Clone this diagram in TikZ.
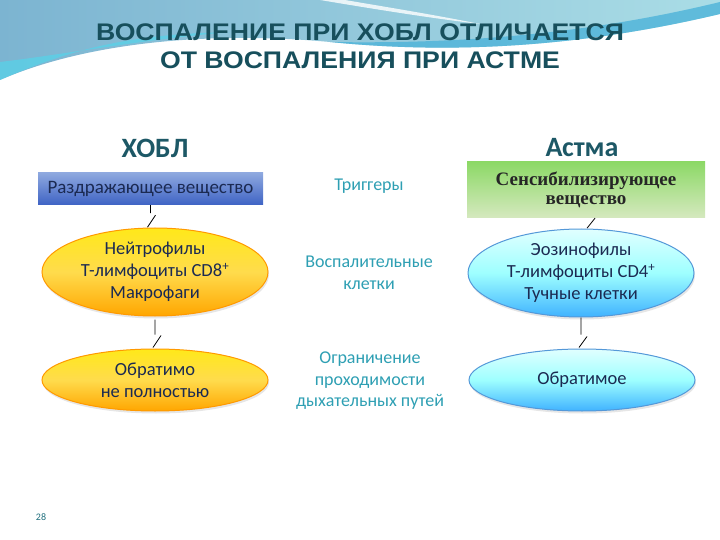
\documentclass[tikz,border=0pt]{standalone}
\usepackage{fontspec}
\setmainfont{Carlito}
\newfontfamily\titlefont[FakeStretch=1.11]{Liberation Sans}
\newfontfamily\boxserif{Liberation Serif}
\usetikzlibrary{shapes.geometric,shadows}

\definecolor{titleteal}{HTML}{174F5C}
\definecolor{headteal}{HTML}{1D5866}
\definecolor{midteal}{HTML}{2E9FB3}
\definecolor{cellnavy}{HTML}{1B2A52}
\definecolor{bandleft}{HTML}{7CB4D1}
\definecolor{bandright}{HTML}{AADDE6}
\definecolor{bandcyan}{HTML}{55D4EA}
\definecolor{bandblue}{HTML}{4DB3D9}
\definecolor{irrtop}{HTML}{8EA8DF}
\definecolor{irrbot}{HTML}{3E63C4}

\tikzset{
  cell/.style={ellipse, minimum width=226pt, minimum height=88pt, align=center, inner sep=0pt,
    text=cellnavy, font=\fontsize{18.5}{22}\selectfont, line width=1pt,
    drop shadow={opacity=0.2, shadow xshift=1pt, shadow yshift=-2.5pt}},
  copdcell/.style={cell, draw=orange!80!yellow, top color=yellow!35!orange!30!yellow!90, bottom color=orange!70!yellow,
    middle color=yellow!60!orange!70},
  asthcell/.style={cell, draw=cyan!60!blue!70, top color=cyan!12, bottom color=cyan!60!blue!75,
    middle color=cyan!38},
  midtext/.style={align=center, text=midteal, font=\fontsize{18}{21.5}\selectfont},
  heading/.style={text=headteal, font=\fontsize{28}{29}\selectfont\bfseries},
  conn/.style={line width=0.8pt, black},
}

\begin{document}
\begin{tikzpicture}[x=1pt,y=-1pt]
   \useasboundingbox (0,0) rectangle (720,540);
   %background band
   \shade[left color=bandleft, right color=bandright] (0,0) -- (720,0) -- (720,14)
      .. controls (560,52) and (430,52) .. (330,42)
      .. controls (200,30) and (80,45) .. (0,80) -- cycle;
   \fill[bandcyan, opacity=0.7] (0,80) .. controls (80,45) and (140,34) .. (230,32)
      .. controls (140,40) and (60,55) .. (0,62) -- cycle;
   \fill[bandblue, opacity=0.8] (720,14) .. controls (560,52) and (430,52) .. (330,42)
      .. controls (450,44) and (580,36) .. (720,2) -- cycle;
   \fill[white, opacity=0.8] (320,0) .. controls (380,10) and (430,18) .. (480,24)
      .. controls (430,14) and (380,6) .. (345,0) -- cycle;
   %title
   \node[text=titleteal, align=center, font=\titlefont\fontsize{24}{28}\selectfont\bfseries]
      (title) at (360,46) {ВОСПАЛЕНИЕ ПРИ ХОБЛ ОТЛИЧАЕТСЯ\\ОТ ВОСПАЛЕНИЯ ПРИ АСТМЕ};
   %headings
   \node[heading] (copd) at (155,148) {ХОБЛ};
   \node[heading] (asth) at (582,148) {Астма};
   %left column
   \node[minimum width=225pt, minimum height=32pt, top color=irrtop, bottom color=irrbot, inner sep=0pt,
      text=cellnavy, font=\fontsize{19}{20}\selectfont] (irr) at (150.5,189) {Раздражающее вещество};
   \node[copdcell] (neut) at (155,272) {Нейтрофилы\\Т-лимфоциты CD8\textsuperscript{+}\\Макрофаги};
   \node[copdcell, minimum height=62pt] (part) at (155,380) {Обратимо\\не полностью};
   %middle column
   \node[midtext] (trig) at (369,186) {Триггеры};
   \node[midtext] (infl) at (369,273) {Воспалительные\\клетки};
   \node[midtext] (lim) at (370,381) {Ограничение\\проходимости\\дыхательных путей};
   %right column
   \node[minimum width=238pt, minimum height=56pt, top color=green!50!olive!60!white, bottom color=green!30!olive!25!white,
      align=center, inner sep=0pt, text=black!85, font=\boxserif\fontsize{19}{19}\selectfont\bfseries] (sens) at (586,190)
      {Сенсибилизирующее\\вещество};
   \node[asthcell] (eos) at (581,273) {Эозинофилы\\Т-лимфоциты CD4\textsuperscript{+}\\Тучные клетки};
   \node[asthcell, minimum height=62pt] (rev) at (582,380) {Обратимое};
   %connectors
   \draw[conn] (irr.south) -- ++(0,8) ++(-3,14) -- ++(8,-12);
   \draw[conn] (neut.south) ++(0,3) -- ++(0,15) ++(-2,13) -- ++(8,-12);
   \draw[conn] (sens.south) ++(1,10) -- ++(8,-10);
   \draw[conn] (eos.south) -- ++(0,17) ++(-2,13) -- ++(8,-11);
   %page number
   \node[text=midteal!70!black, font=\fontsize{10}{11}\selectfont] (page) at (41,517) {28};
\end{tikzpicture}
\end{document}
